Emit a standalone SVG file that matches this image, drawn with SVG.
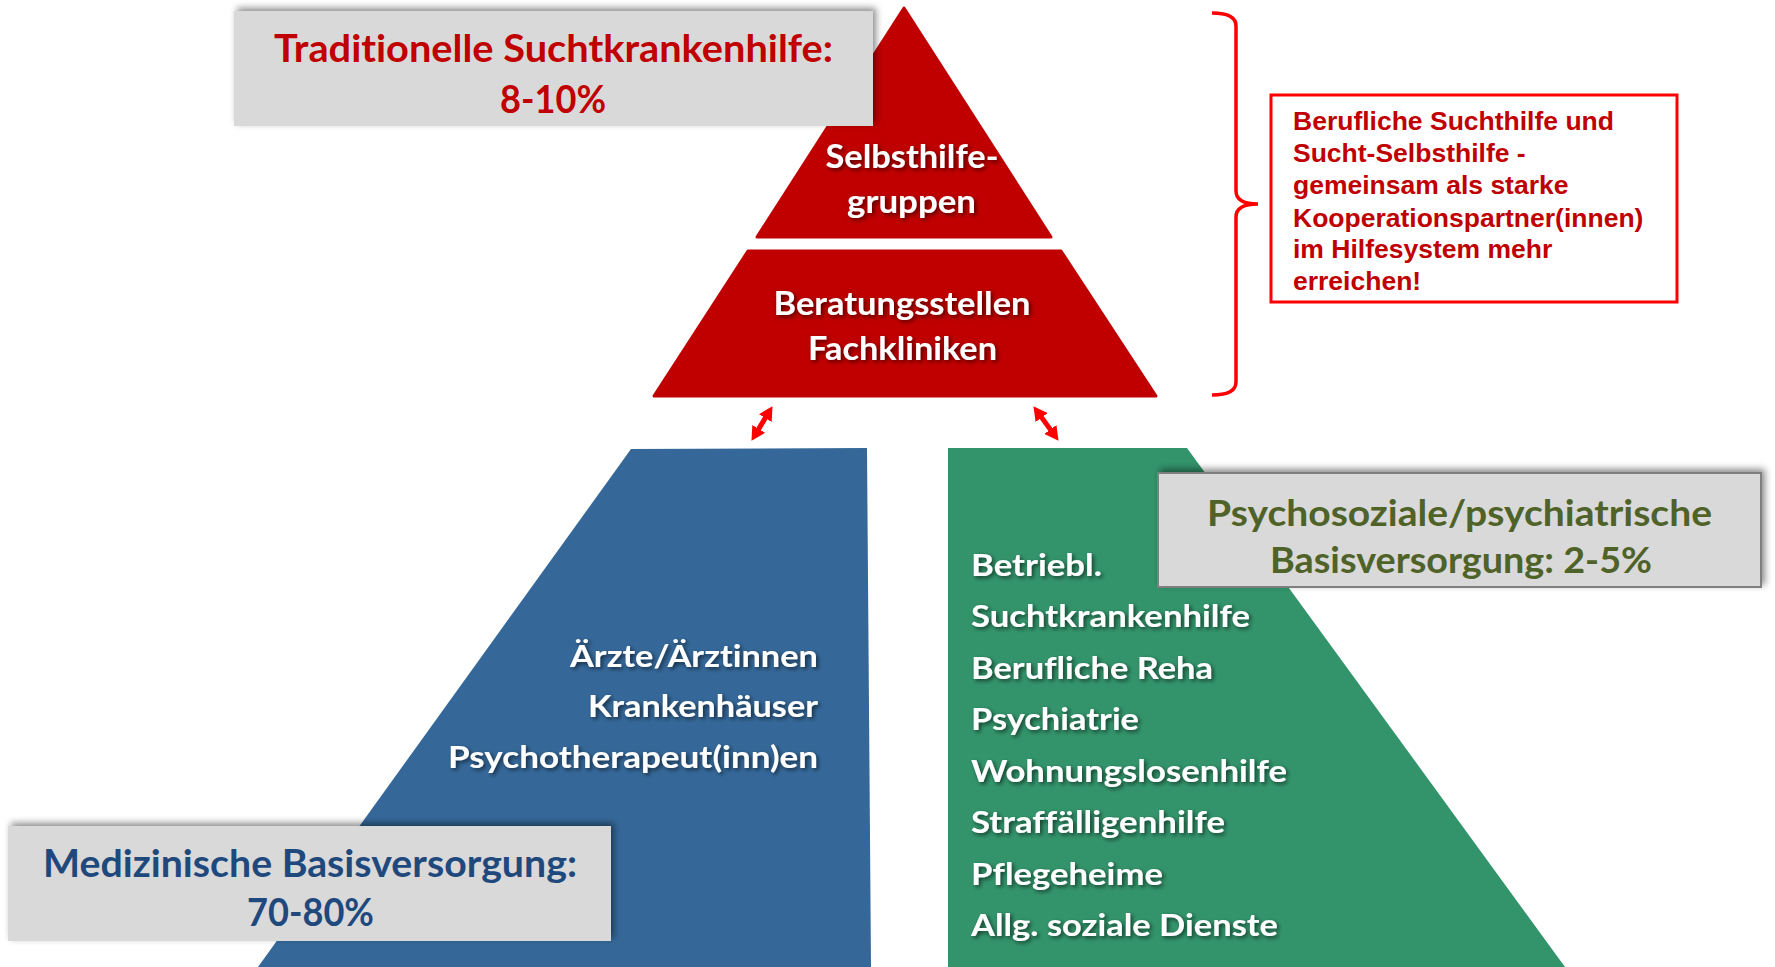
<svg xmlns="http://www.w3.org/2000/svg" width="1775" height="967" viewBox="0 0 1775 967">
<defs>
<filter id="boxShadow" x="-10%" y="-30%" width="120%" height="160%">
<feDropShadow dx="3" dy="-3" stdDeviation="3.5" flood-color="#000" flood-opacity="0.45"/>
</filter>
<filter id="txtShadow" x="-10%" y="-30%" width="120%" height="160%">
<feDropShadow dx="2" dy="2" stdDeviation="2" flood-color="#000" flood-opacity="0.6"/>
</filter>
<marker id="ah" viewBox="0 0 14 15" refX="2" refY="7.5" markerWidth="14" markerHeight="15" markerUnits="userSpaceOnUse" orient="auto-start-reverse">
<path d="M0,0 L14,7.5 L0,15 z" fill="#ff0000"/>
</marker>
</defs>
<style>
.cal{font-family:Lato,"Open Sans","Noto Sans",sans-serif;font-weight:700;font-variant-ligatures:none}
.wt{fill:#ffffff;filter:url(#txtShadow)}
.lbl{fill:#d9d9d9;filter:url(#boxShadow)}
.red{fill:#c00000;stroke:#c00000;stroke-width:3;stroke-linejoin:round}
.note{font-family:"Liberation Sans",Arial,sans-serif;font-weight:700;font-size:26.5px;fill:#c00000}
.conn{stroke:#ff0000;stroke-width:5;fill:none;marker-start:url(#ah);marker-end:url(#ah)}
</style>

<g id="pyramid-top">
<polygon class="red" points="904,8 1051,237 757,237"/>
<text class="cal wt" font-size="31.5" x="912" y="168" text-anchor="middle" textLength="173" lengthAdjust="spacingAndGlyphs">Selbsthilfe-</text>
<text class="cal wt" font-size="31.5" x="911.5" y="213" text-anchor="middle" textLength="129" lengthAdjust="spacingAndGlyphs">gruppen</text>
</g>

<g id="pyramid-middle">
<polygon class="red" points="748,251 1061,251 1156,396 654,396"/>
<text class="cal wt" font-size="31.5" x="902" y="315" text-anchor="middle" textLength="257" lengthAdjust="spacingAndGlyphs">Beratungsstellen</text>
<text class="cal wt" font-size="31.5" x="902.5" y="360" text-anchor="middle" textLength="189" lengthAdjust="spacingAndGlyphs">Fachkliniken</text>
</g>

<g id="label-traditionell">
<rect class="lbl" x="234" y="11" width="639" height="115"/>
<text class="cal" font-size="38" fill="#c00000" x="553.5" y="62" text-anchor="middle" textLength="559" lengthAdjust="spacingAndGlyphs">Traditionelle Suchtkrankenhilfe:</text>
<text class="cal" font-size="38" fill="#c00000" x="553" y="113" text-anchor="middle" textLength="106" lengthAdjust="spacingAndGlyphs">8-10%</text>
</g>

<g id="medizinisch">
<polygon fill="#356899" points="631,449 867,448 871,967 258,967"/>
<text class="cal wt" font-size="30" x="818" y="667" text-anchor="end" textLength="248" lengthAdjust="spacingAndGlyphs">Ärzte/Ärztinnen</text>
<text class="cal wt" font-size="30" x="818" y="717" text-anchor="end" textLength="230" lengthAdjust="spacingAndGlyphs">Krankenhäuser</text>
<text class="cal wt" font-size="30" x="818" y="768" text-anchor="end" textLength="370" lengthAdjust="spacingAndGlyphs">Psychotherapeut(inn)en</text>
</g>

<g id="psychosozial">
<polygon fill="#33946b" points="948,448 1187,448 1565,967 948,967"/>
<text class="cal wt" font-size="31" x="971" y="576" textLength="131" lengthAdjust="spacingAndGlyphs">Betriebl.</text>
<text class="cal wt" font-size="31" x="971" y="627" textLength="279" lengthAdjust="spacingAndGlyphs">Suchtkrankenhilfe</text>
<text class="cal wt" font-size="31" x="971" y="679" textLength="242" lengthAdjust="spacingAndGlyphs">Berufliche Reha</text>
<text class="cal wt" font-size="31" x="971" y="730" textLength="168" lengthAdjust="spacingAndGlyphs">Psychiatrie</text>
<text class="cal wt" font-size="31" x="971" y="782" textLength="316" lengthAdjust="spacingAndGlyphs">Wohnungslosenhilfe</text>
<text class="cal wt" font-size="31" x="971" y="833" textLength="254" lengthAdjust="spacingAndGlyphs">Straffälligenhilfe</text>
<text class="cal wt" font-size="31" x="971" y="885" textLength="192" lengthAdjust="spacingAndGlyphs">Pflegeheime</text>
<text class="cal wt" font-size="31" x="971" y="936" textLength="307" lengthAdjust="spacingAndGlyphs">Allg. soziale Dienste</text>
</g>

<g id="label-medizinisch">
<rect class="lbl" x="8" y="826" width="603" height="115"/>
<text class="cal" font-size="38" fill="#1f497d" x="310" y="877" text-anchor="middle" textLength="534" lengthAdjust="spacingAndGlyphs">Medizinische Basisversorgung:</text>
<text class="cal" font-size="38" fill="#1f497d" x="310.5" y="926" text-anchor="middle" textLength="127" lengthAdjust="spacingAndGlyphs">70-80%</text>
</g>

<g id="label-psychosozial">
<rect class="lbl" x="1158" y="473" width="603" height="114" stroke="#7f7f7f" stroke-width="2"/>
<text class="cal" font-size="36" fill="#4f6228" x="1459.5" y="526" text-anchor="middle" textLength="505" lengthAdjust="spacingAndGlyphs">Psychosoziale/psychiatrische</text>
<text class="cal" font-size="36" fill="#4f6228" x="1461" y="573" text-anchor="middle" textLength="382" lengthAdjust="spacingAndGlyphs">Basisversorgung: 2-5%</text>
</g>

<g id="brace">
<path d="M1212,13 Q1236,13 1236,26 L1236,191 Q1236,204 1258,204 Q1236,204 1236,217 L1236,382 Q1236,395 1212,395" fill="none" stroke="#ff0000" stroke-width="3.5"/>
</g>

<g id="note">
<rect x="1271" y="95" width="406" height="207" fill="#ffffff" stroke="#ff0000" stroke-width="3"/>
<text class="note" x="1293" y="130">Berufliche Suchthilfe und</text>
<text class="note" x="1293" y="162">Sucht-Selbsthilfe -</text>
<text class="note" x="1293" y="194">gemeinsam als starke</text>
<text class="note" x="1293" y="227">Kooperationspartner(innen)</text>
<text class="note" x="1293" y="258">im Hilfesystem mehr</text>
<text class="note" x="1293" y="290">erreichen!</text>
</g>

<g id="connectors">
<line class="conn" x1="766.3" y1="416.4" x2="757.7" y2="430.6"/>
<line class="conn" x1="1040.5" y1="415.9" x2="1051.5" y2="431.1"/>
</g>
</svg>
